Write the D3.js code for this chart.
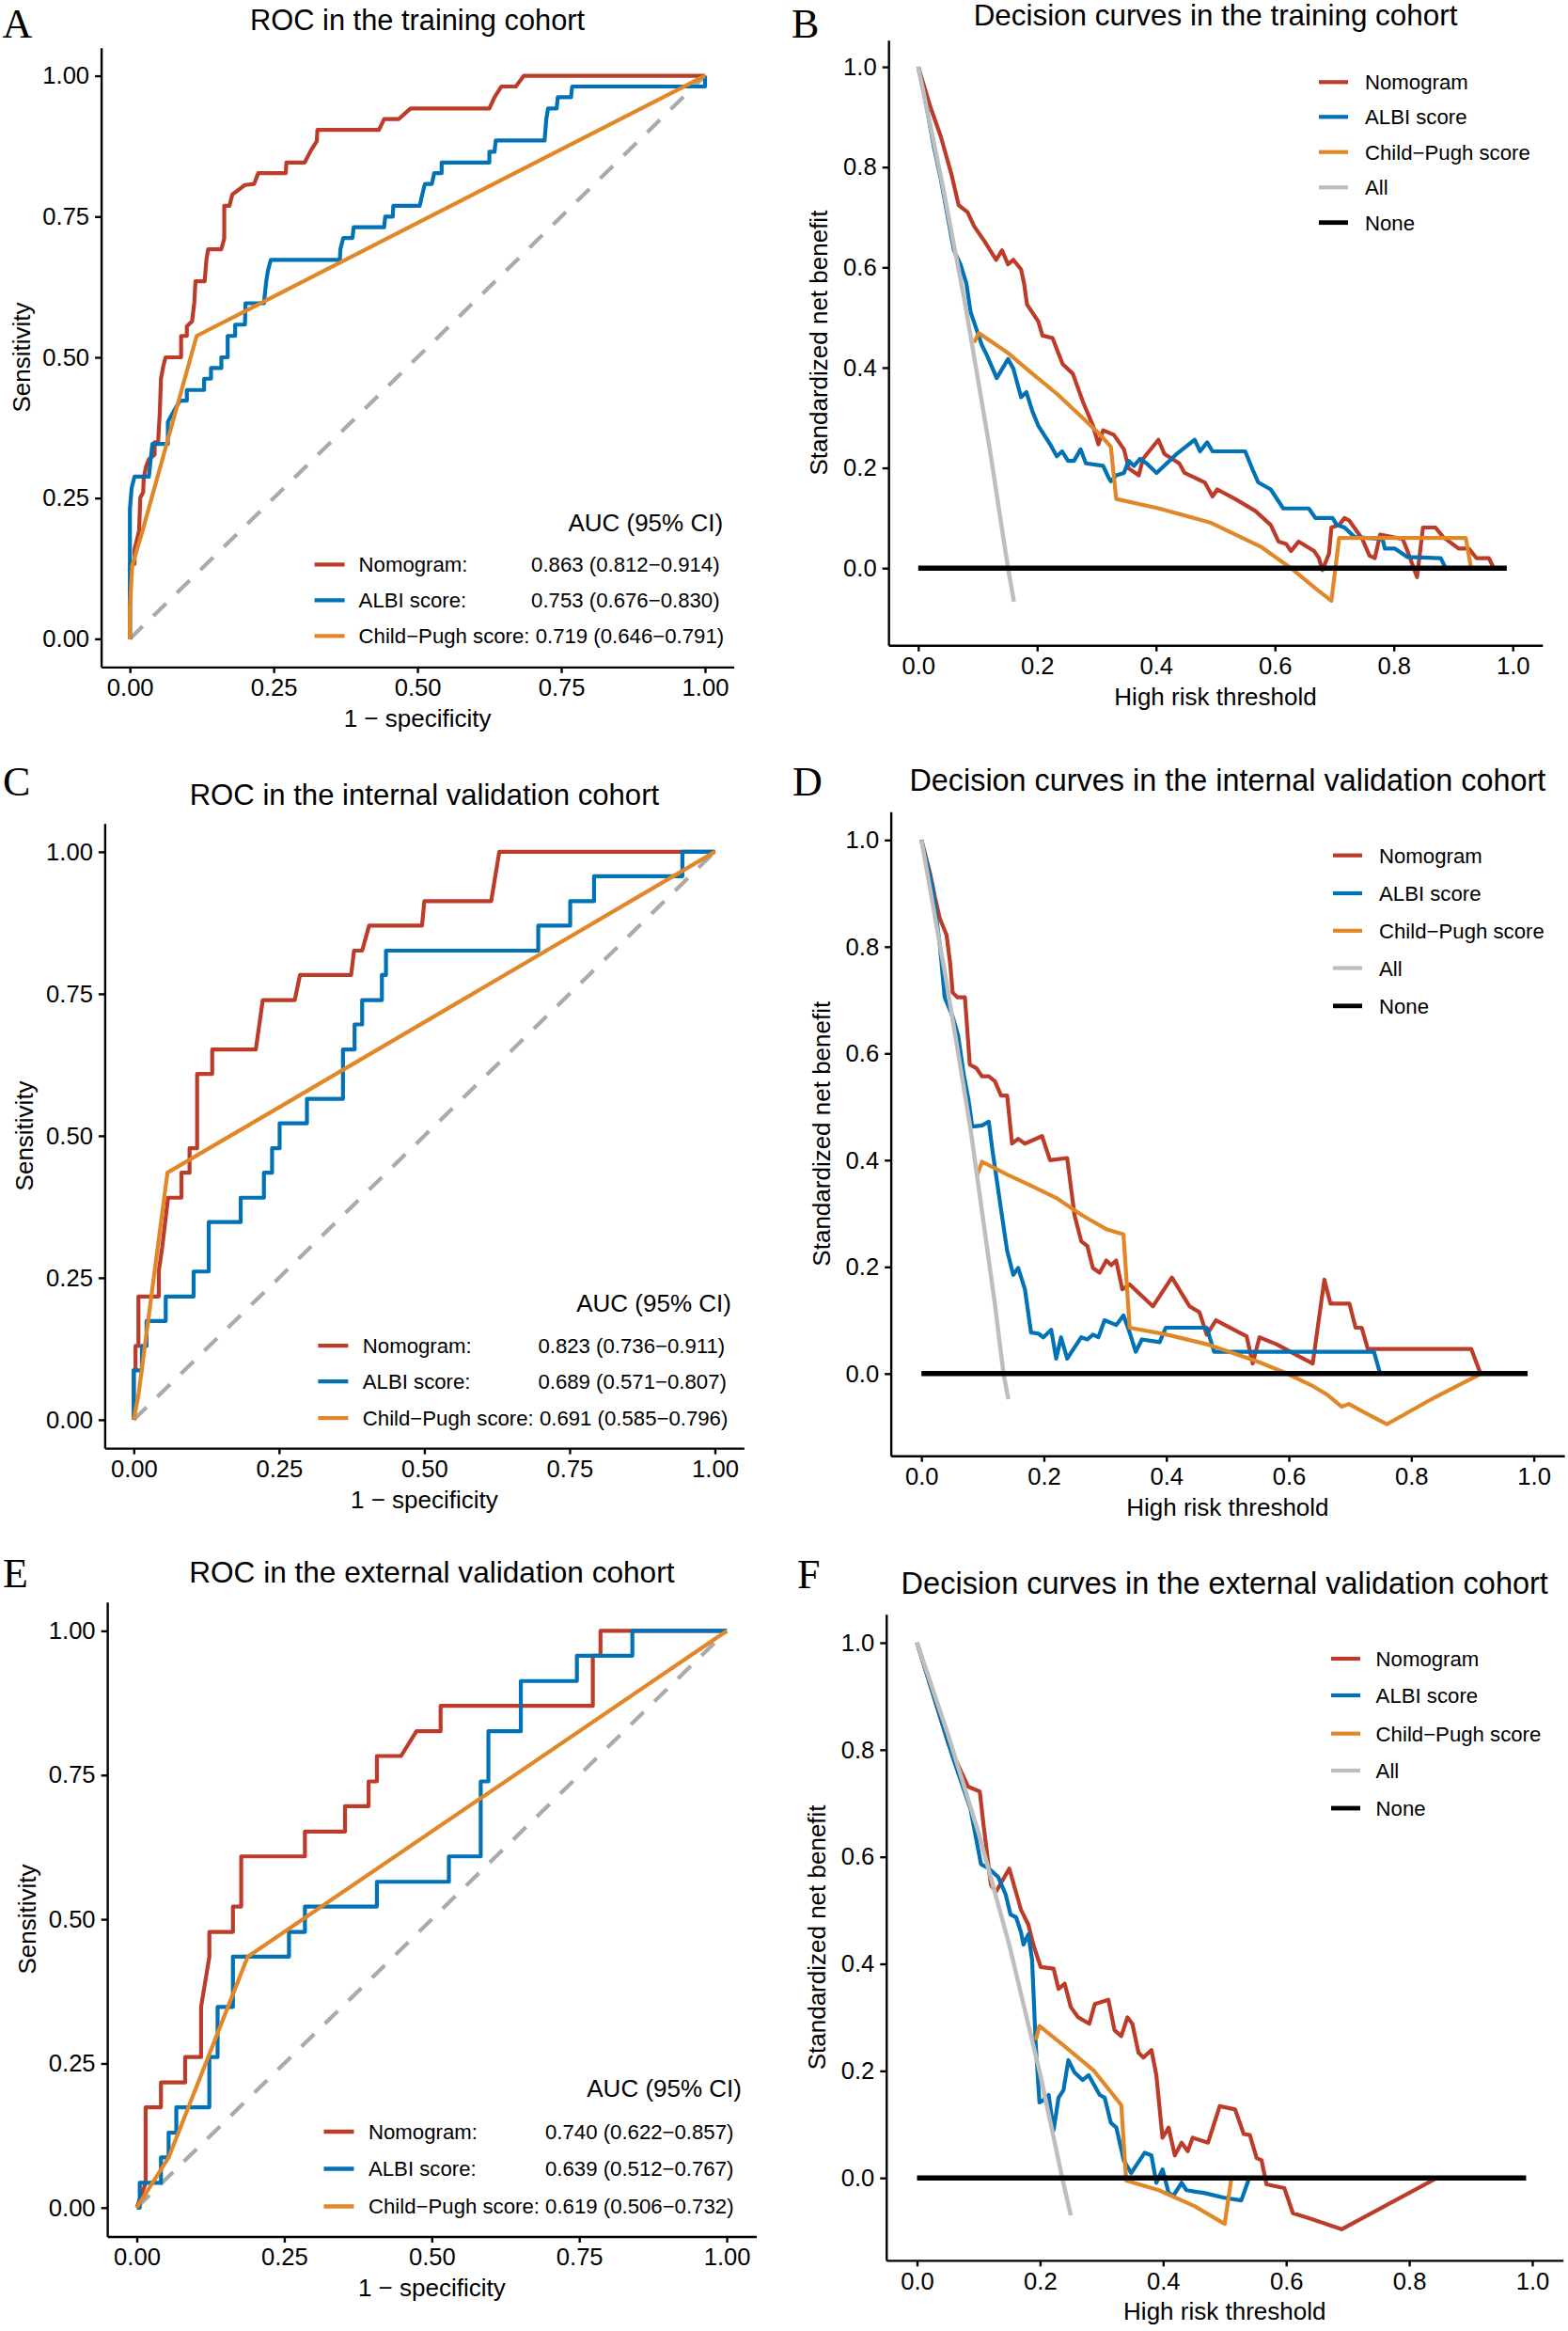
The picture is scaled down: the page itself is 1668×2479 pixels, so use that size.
<!DOCTYPE html>
<html>
<head>
<meta charset="utf-8">
<script src="https://cdn.jsdelivr.net/npm/d3@7/dist/d3.min.js"></script>
<style>
html,body{margin:0;padding:0;background:#fff;}
svg{display:block;}
</style>
</head>
<body>
<svg id="chart" width="1668" height="2479" xmlns="http://www.w3.org/2000/svg"></svg>
<script>
// ================= DATA =================
const rocTicks = [0, 0.25, 0.5, 0.75, 1];
const dcaTicks = [0, 0.2, 0.4, 0.6, 0.8, 1.0];
const rocSeries = ["Nomogram:", "ALBI score:", "Child\u2212Pugh score:"];
const dcaSeries = ["Nomogram", "ALBI score", "Child\u2212Pugh score", "All", "None"];
const aucA = ["0.863 (0.812\u22120.914)", "0.753 (0.676\u22120.830)", "0.719 (0.646\u22120.791)"];
const aucC = ["0.823 (0.736\u22120.911)", "0.689 (0.571\u22120.807)", "0.691 (0.585\u22120.796)"];
const aucE = ["0.740 (0.622\u22120.857)", "0.639 (0.512\u22120.767)", "0.619 (0.506\u22120.732)"];
const diagonal = [[0,0],[1,1]];

// ROC – training cohort
const rocA_nomogram = [[0,0],[0,0.133],[0.008,0.133],[0.008,0.159],[0.016,0.192],[0.018,0.251],[0.023,0.26],[0.024,0.285],[0.028,0.306],[0.033,0.319],[0.043,0.327],[0.043,0.349],[0.049,0.349],[0.052,0.403],[0.054,0.462],[0.058,0.484],[0.062,0.5],[0.089,0.5],[0.089,0.538],[0.099,0.538],[0.099,0.555],[0.108,0.564],[0.112,0.597],[0.114,0.635],[0.13,0.635],[0.133,0.673],[0.136,0.692],[0.159,0.692],[0.164,0.711],[0.164,0.769],[0.173,0.769],[0.178,0.789],[0.2,0.806],[0.216,0.808],[0.223,0.827],[0.271,0.827],[0.272,0.846],[0.304,0.846],[0.315,0.868],[0.325,0.884],[0.326,0.904],[0.433,0.904],[0.442,0.923],[0.467,0.923],[0.488,0.942],[0.625,0.942],[0.634,0.962],[0.646,0.981],[0.671,0.981],[0.685,1],[1,1]];
const rocA_albi = [[0,0],[0,0.23],[0.003,0.268],[0.008,0.288],[0.033,0.288],[0.037,0.327],[0.039,0.346],[0.066,0.346],[0.066,0.385],[0.076,0.404],[0.087,0.423],[0.099,0.423],[0.099,0.442],[0.129,0.442],[0.129,0.462],[0.141,0.462],[0.141,0.481],[0.159,0.481],[0.159,0.5],[0.17,0.5],[0.17,0.538],[0.183,0.538],[0.183,0.558],[0.2,0.558],[0.201,0.596],[0.233,0.596],[0.237,0.635],[0.24,0.654],[0.245,0.673],[0.365,0.673],[0.366,0.692],[0.371,0.712],[0.387,0.712],[0.389,0.731],[0.442,0.731],[0.444,0.75],[0.457,0.75],[0.458,0.769],[0.504,0.769],[0.508,0.788],[0.513,0.808],[0.525,0.808],[0.529,0.827],[0.542,0.827],[0.542,0.846],[0.625,0.846],[0.625,0.865],[0.634,0.865],[0.636,0.885],[0.721,0.885],[0.724,0.923],[0.727,0.942],[0.742,0.942],[0.744,0.962],[0.767,0.962],[0.769,0.981],[1,0.981],[1,1]];
const rocA_childpugh = [[0,0],[0,0.054],[0.004,0.13],[0.022,0.192],[0.116,0.538],[1,1]];

// ROC – internal validation cohort
const rocC_nomogram = [[0,0],[0,0.087],[0.003,0.087],[0.003,0.13],[0.008,0.13],[0.008,0.217],[0.043,0.217],[0.043,0.261],[0.049,0.304],[0.059,0.391],[0.082,0.391],[0.082,0.435],[0.096,0.435],[0.096,0.478],[0.109,0.478],[0.109,0.609],[0.135,0.609],[0.135,0.652],[0.21,0.652],[0.222,0.739],[0.277,0.739],[0.286,0.783],[0.374,0.783],[0.379,0.826],[0.393,0.826],[0.405,0.87],[0.496,0.87],[0.5,0.913],[0.615,0.913],[0.629,1],[1,1]];
const rocC_albi = [[0,0],[0,0.087],[0.014,0.087],[0.014,0.13],[0.022,0.13],[0.022,0.174],[0.055,0.174],[0.055,0.217],[0.103,0.217],[0.103,0.261],[0.129,0.261],[0.129,0.348],[0.184,0.348],[0.184,0.391],[0.224,0.391],[0.224,0.435],[0.238,0.435],[0.238,0.478],[0.251,0.478],[0.251,0.522],[0.298,0.522],[0.298,0.565],[0.36,0.565],[0.36,0.652],[0.38,0.652],[0.38,0.696],[0.393,0.696],[0.393,0.739],[0.427,0.739],[0.427,0.783],[0.434,0.783],[0.434,0.826],[0.696,0.826],[0.696,0.87],[0.751,0.87],[0.751,0.913],[0.792,0.913],[0.792,0.957],[0.944,0.957],[0.944,1],[1,1]];
const rocC_childpugh = [[0,0],[0.008,0.043],[0.058,0.435],[1,1]];

// ROC – external validation cohort
const rocE_nomogram = [[0,0],[0.015,0.043],[0.015,0.174],[0.041,0.174],[0.041,0.217],[0.082,0.217],[0.082,0.261],[0.109,0.261],[0.109,0.348],[0.123,0.435],[0.123,0.478],[0.163,0.478],[0.163,0.522],[0.177,0.522],[0.177,0.609],[0.285,0.609],[0.285,0.652],[0.353,0.652],[0.353,0.696],[0.393,0.696],[0.393,0.739],[0.407,0.739],[0.407,0.783],[0.448,0.783],[0.474,0.826],[0.515,0.826],[0.515,0.87],[0.773,0.87],[0.773,0.957],[0.786,0.957],[0.786,1],[1,1]];
const rocE_albi = [[0,0],[0.005,0],[0.005,0.043],[0.041,0.043],[0.041,0.087],[0.054,0.087],[0.054,0.13],[0.067,0.13],[0.067,0.174],[0.123,0.174],[0.123,0.261],[0.137,0.261],[0.137,0.348],[0.163,0.348],[0.163,0.435],[0.258,0.435],[0.258,0.478],[0.285,0.478],[0.285,0.522],[0.407,0.522],[0.407,0.565],[0.529,0.565],[0.529,0.609],[0.583,0.609],[0.583,0.739],[0.596,0.739],[0.596,0.826],[0.651,0.826],[0.651,0.913],[0.746,0.913],[0.746,0.957],[0.84,0.957],[0.84,1],[1,1]];
const rocE_childpugh = [[0,0],[0.054,0.087],[0.188,0.435],[1,1]];

// Decision curves – training cohort
const dcaB_nomogram = [[0,1],[0.021,0.918],[0.038,0.861],[0.056,0.785],[0.068,0.724],[0.083,0.71],[0.094,0.682],[0.111,0.653],[0.131,0.615],[0.141,0.634],[0.151,0.606],[0.16,0.615],[0.173,0.596],[0.178,0.568],[0.183,0.526],[0.202,0.492],[0.209,0.464],[0.226,0.459],[0.235,0.431],[0.243,0.407],[0.26,0.388],[0.277,0.332],[0.294,0.284],[0.303,0.247],[0.311,0.275],[0.329,0.266],[0.346,0.237],[0.354,0.199],[0.371,0.185],[0.378,0.218],[0.404,0.256],[0.414,0.228],[0.439,0.209],[0.448,0.19],[0.482,0.171],[0.495,0.143],[0.503,0.157],[0.533,0.138],[0.567,0.114],[0.593,0.086],[0.606,0.053],[0.619,0.048],[0.627,0.034],[0.64,0.053],[0.666,0.034],[0.674,0.02],[0.68,-0.004],[0.691,0.029],[0.695,0.081],[0.708,0.086],[0.717,0.1],[0.725,0.095],[0.747,0.058],[0.759,0.025],[0.768,0.02],[0.777,0.067],[0.815,0.058],[0.823,0.034],[0.839,-0.018],[0.849,0.081],[0.87,0.081],[0.883,0.062],[0.909,0.039],[0.926,0.039],[0.939,0.02],[0.96,0.02],[0.968,0]];
const dcaB_albi = [[0,1],[0.013,0.927],[0.026,0.842],[0.038,0.776],[0.06,0.634],[0.071,0.606],[0.081,0.568],[0.088,0.511],[0.107,0.445],[0.115,0.426],[0.132,0.379],[0.151,0.417],[0.16,0.398],[0.173,0.341],[0.182,0.351],[0.192,0.313],[0.202,0.284],[0.222,0.247],[0.233,0.223],[0.242,0.233],[0.252,0.214],[0.262,0.214],[0.273,0.237],[0.282,0.209],[0.311,0.204],[0.32,0.181],[0.324,0.173],[0.333,0.185],[0.346,0.19],[0.354,0.214],[0.363,0.204],[0.373,0.218],[0.384,0.209],[0.401,0.19],[0.435,0.228],[0.465,0.256],[0.474,0.233],[0.486,0.251],[0.495,0.233],[0.55,0.233],[0.563,0.195],[0.572,0.171],[0.593,0.157],[0.614,0.119],[0.657,0.119],[0.668,0.1],[0.697,0.1],[0.704,0.086],[0.717,0.081],[0.734,0.062],[0.781,0.058],[0.785,0.039],[0.802,0.039],[0.823,0.022],[0.879,0.02],[0.887,0]];
const dcaB_childpugh = [[0.094,0.45],[0.102,0.469],[0.149,0.431],[0.192,0.388],[0.235,0.346],[0.277,0.299],[0.303,0.27],[0.324,0.242],[0.333,0.138],[0.405,0.119],[0.491,0.091],[0.576,0.043],[0.627,0],[0.67,-0.042],[0.695,-0.065],[0.708,0.06],[0.921,0.06],[0.93,0]];
const dcaB_all = [[0,1],[0.04,0.77],[0.08,0.52],[0.12,0.24],[0.151,0],[0.161,-0.067]];
const dcaB_none = [[0,0],[0.99,0]];

// Decision curves – internal validation cohort
const dcaD_nomogram = [[0,1],[0.014,0.938],[0.022,0.893],[0.03,0.853],[0.041,0.822],[0.047,0.768],[0.051,0.714],[0.059,0.705],[0.071,0.705],[0.079,0.579],[0.09,0.572],[0.099,0.557],[0.11,0.557],[0.12,0.548],[0.13,0.521],[0.14,0.521],[0.148,0.431],[0.158,0.44],[0.169,0.431],[0.197,0.445],[0.21,0.4],[0.238,0.404],[0.25,0.297],[0.261,0.248],[0.271,0.239],[0.28,0.198],[0.291,0.189],[0.302,0.212],[0.31,0.203],[0.318,0.212],[0.328,0.158],[0.34,0.167],[0.378,0.126],[0.409,0.18],[0.438,0.126],[0.454,0.115],[0.466,0.073],[0.481,0.1],[0.511,0.082],[0.531,0.07],[0.541,0.019],[0.552,0.068],[0.58,0.055],[0.617,0.032],[0.639,0.019],[0.658,0.176],[0.668,0.131],[0.699,0.131],[0.709,0.086],[0.719,0.086],[0.729,0.046],[0.898,0.046],[0.913,0]];
const dcaD_albi = [[0,1],[0.018,0.911],[0.03,0.804],[0.038,0.705],[0.051,0.669],[0.06,0.633],[0.069,0.561],[0.077,0.512],[0.083,0.463],[0.099,0.465],[0.11,0.472],[0.116,0.418],[0.124,0.355],[0.132,0.292],[0.14,0.23],[0.15,0.185],[0.158,0.198],[0.169,0.158],[0.179,0.077],[0.191,0.075],[0.199,0.068],[0.212,0.082],[0.22,0.028],[0.228,0.068],[0.238,0.028],[0.261,0.068],[0.271,0.064],[0.28,0.073],[0.289,0.068],[0.299,0.1],[0.318,0.091],[0.33,0.109],[0.34,0.077],[0.35,0.041],[0.36,0.064],[0.389,0.059],[0.399,0.086],[0.466,0.086],[0.478,0.041],[0.739,0.041],[0.749,0]];
const dcaD_childpugh = [[0.09,0.369],[0.099,0.397],[0.14,0.373],[0.181,0.351],[0.222,0.328],[0.262,0.297],[0.303,0.27],[0.33,0.261],[0.34,0.086],[0.401,0.073],[0.466,0.055],[0.548,0.023],[0.597,0],[0.637,-0.022],[0.662,-0.039],[0.686,-0.062],[0.698,-0.057],[0.727,-0.075],[0.76,-0.095],[0.833,-0.048],[0.914,0]];
const dcaD_all = [[0,1],[0.04,0.74],[0.08,0.46],[0.12,0.13],[0.134,0],[0.142,-0.048]];
const dcaD_none = [[0,0],[0.99,0]];

// Decision curves – external validation cohort
const dcaF_nomogram = [[0,1],[0.026,0.904],[0.051,0.811],[0.083,0.731],[0.102,0.722],[0.108,0.661],[0.12,0.548],[0.128,0.534],[0.15,0.578],[0.169,0.501],[0.181,0.473],[0.189,0.436],[0.201,0.394],[0.222,0.391],[0.23,0.353],[0.24,0.363],[0.25,0.319],[0.262,0.3],[0.28,0.288],[0.289,0.325],[0.311,0.333],[0.321,0.276],[0.332,0.265],[0.342,0.3],[0.35,0.288],[0.36,0.234],[0.368,0.225],[0.381,0.239],[0.389,0.192],[0.399,0.075],[0.409,0.094],[0.419,0.042],[0.43,0.066],[0.44,0.05],[0.448,0.075],[0.473,0.066],[0.492,0.134],[0.517,0.128],[0.531,0.082],[0.541,0.08],[0.552,0.037],[0.56,0.033],[0.568,-0.012],[0.597,-0.019],[0.611,-0.066],[0.637,-0.075],[0.69,-0.096],[0.845,0]];
const dcaF_albi = [[0,1],[0.026,0.904],[0.059,0.783],[0.087,0.689],[0.104,0.586],[0.117,0.578],[0.132,0.562],[0.144,0.53],[0.152,0.492],[0.161,0.487],[0.169,0.459],[0.173,0.436],[0.181,0.455],[0.187,0.408],[0.193,0.248],[0.199,0.141],[0.205,0.145],[0.214,0.155],[0.222,0.089],[0.23,0.15],[0.238,0.164],[0.246,0.22],[0.256,0.197],[0.269,0.183],[0.279,0.192],[0.297,0.155],[0.305,0.15],[0.315,0.103],[0.324,0.094],[0.336,0.033],[0.348,0.009],[0.37,0.047],[0.381,0.042],[0.389,-0.009],[0.399,0.016],[0.409,-0.028],[0.417,-0.033],[0.43,-0.009],[0.438,-0.023],[0.466,-0.028],[0.499,-0.037],[0.527,-0.042],[0.54,0]];
const dcaF_childpugh = [[0.193,0.258],[0.199,0.284],[0.238,0.248],[0.287,0.201],[0.332,0.136],[0.34,-0.005],[0.393,-0.023],[0.45,-0.052],[0.5,-0.086],[0.511,0]];
const dcaF_all = [[0,1],[0.05,0.83],[0.1,0.645],[0.15,0.435],[0.2,0.195],[0.236,0],[0.25,-0.07]];
const dcaF_none = [[0,0],[0.99,0]];

// ================= STYLE / LAYOUT =================
const FONT = '"Liberation Sans", Arial, Helvetica, sans-serif';
const SERIF = '"Liberation Serif", "Times New Roman", Times, serif';
const COL = {nom:"#BC3C29", albi:"#0072B5", cp:"#E18727", all:"#BEBEBE", none:"#000000", diag:"#AAAAAA"};
const LEGEND_SIZE = 22.2;

const rocPanels = [
  {letter:"A", title:"ROC in the training cohort", nom:rocA_nomogram, albi:rocA_albi, cp:rocA_childpugh, auc:aucA,
   x0:138.2, x1:750, y0:679.4, y1:80.6, titleY:31.5, titleSize:30.8, letterX:2.5, letterY:39.5,
   aucDx:-11.5, aucDy:-144, rows:[-109,-71,-33], keyX:[-446,-414], labelDx:-399, valueDx:-215.5},
  {letter:"C", title:"ROC in the internal validation cohort", nom:rocC_nomogram, albi:rocC_albi, cp:rocC_childpugh, auc:aucC,
   x0:142.3, x1:760.5, y0:1509.9, y1:905.9, titleY:855.9, titleSize:31.1, letterX:3, letterY:845.7,
   aucDx:-13.5, aucDy:-145.6, rows:[-109,-71,-32], keyX:[-453,-421], labelDx:-405.6, valueDx:-219},
  {letter:"E", title:"ROC in the external validation cohort", nom:rocE_nomogram, albi:rocE_albi, cp:rocE_childpugh, auc:aucE,
   x0:145.5, x1:773.1, y0:2347.8, y1:1734.4, titleY:1682.5, titleSize:31.6, letterX:3, letterY:1688,
   aucDx:-15.5, aucDy:-148, rows:[-111.5,-72,-32], keyX:[-460,-428], labelDx:-412.5, valueDx:-224.5}
];

const dcaPanels = [
  {letter:"B", title:"Decision curves in the training cohort", nom:dcaB_nomogram, albi:dcaB_albi, cp:dcaB_childpugh, all:dcaB_all, none:dcaB_none,
   x0:976.8, x1:1609.2, y0:604.2, y1:71.1, titleY:27, titleSize:31.4, letterX:842, letterY:39.5,
   rows:[87.3,124.3,161.7,199.3,236.7], keyX:[1403,1434], labelX:1452},
  {letter:"D", title:"Decision curves in the internal validation cohort", nom:dcaD_nomogram, albi:dcaD_albi, cp:dcaD_childpugh, all:dcaD_all, none:dcaD_none,
   x0:980.2, x1:1631.6, y0:1460.8, y1:893.3, titleY:840.9, titleSize:32.4, letterX:843, letterY:846,
   rows:[909.7,950,989.8,1029.5,1069.8], keyX:[1418,1449], labelX:1467},
  {letter:"F", title:"Decision curves in the external validation cohort", nom:dcaF_nomogram, albi:dcaF_albi, cp:dcaF_childpugh, all:dcaF_all, none:dcaF_none,
   x0:975.5, x1:1630, y0:2316.2, y1:1747, titleY:1694.7, titleSize:32.5, letterX:848, letterY:1689.4,
   rows:[1764,1803,1843.7,1883,1923], keyX:[1416,1447], labelX:1463.6}
];

const svg = d3.select("#chart");
svg.append("rect").attr("width",1668).attr("height",2479).attr("fill","#fff");

function makeScales(p, yDom) {
  const ux = p.x1 - p.x0, uy = p.y0 - p.y1;
  const x = d3.scaleLinear().domain([-0.05, 1.05]).range([p.x0 - 0.05*ux, p.x0 + 1.05*ux]);
  const y = d3.scaleLinear().domain(yDom).range([p.y0 - yDom[0]*uy, p.y0 - yDom[1]*uy]);
  return {x, y};
}

function drawAxes(g, x, y, ticks, fmt) {
  const bottom = y.range()[0], left = x.range()[0];
  const xa = g.append("g").attr("transform", `translate(0,${bottom})`)
    .call(d3.axisBottom(x).tickValues(ticks).tickFormat(fmt).tickSizeInner(6.5).tickSizeOuter(0).tickPadding(6));
  const ya = g.append("g").attr("transform", `translate(${left},0)`)
    .call(d3.axisLeft(y).tickValues(ticks).tickFormat(fmt).tickSizeInner(6.5).tickSizeOuter(0).tickPadding(6));
  [xa, ya].forEach(a => {
    a.attr("font-family", FONT).attr("font-size", 26);
    a.selectAll(".domain").attr("stroke", "#000").attr("stroke-width", 2.4);
    a.selectAll(".tick line").attr("stroke", "#000").attr("stroke-width", 2.4);
    a.selectAll(".tick text").attr("fill", "#000").attr("font-size", 25.6).attr("font-family", FONT);
  });
}

function drawLine(g, data, x, y, color, width, dash) {
  const line = d3.line().x(d => x(d[0])).y(d => y(d[1]));
  const p = g.append("path").datum(data).attr("d", line)
    .attr("fill", "none").attr("stroke", color).attr("stroke-width", width)
    .attr("stroke-linejoin", "round").attr("stroke-linecap", "butt");
  if (dash) p.attr("stroke-dasharray", dash);
  return p;
}

function titles(g, p, x, y, xTitle, yTitle, yTitleOffset) {
  const [l, r] = x.range(), [b, t] = y.range();
  g.append("text").attr("x", (l + r) / 2).attr("y", p.titleY).attr("text-anchor", "middle")
    .attr("font-family", FONT).attr("font-size", p.titleSize).attr("fill", "#000").text(p.title);
  g.append("text").attr("x", p.letterX).attr("y", p.letterY)
    .attr("font-family", SERIF).attr("font-size", 44).attr("fill", "#000").text(p.letter);
  g.append("text").attr("x", (l + r) / 2).attr("y", b + 63.5).attr("text-anchor", "middle")
    .attr("font-family", FONT).attr("font-size", 26).attr("fill", "#000").text(xTitle);
  const cy = (b + t) / 2, bx = l + yTitleOffset;
  g.append("text").attr("transform", `translate(${bx},${cy}) rotate(-90)`).attr("text-anchor", "middle")
    .attr("font-family", FONT).attr("font-size", 26).attr("fill", "#000").text(yTitle);
}

// ---------- ROC panels ----------
rocPanels.forEach(p => {
  const g = svg.append("g");
  const {x, y} = makeScales(p, [-0.05, 1.05]);
  drawLine(g, diagonal, x, y, COL.diag, 4.2, "19,16");
  drawLine(g, p.nom, x, y, COL.nom, 4.2);
  drawLine(g, p.albi, x, y, COL.albi, 4.2);
  drawLine(g, p.cp, x, y, COL.cp, 4.2);
  drawAxes(g, x, y, rocTicks, d3.format(".2f"));
  titles(g, p, x, y, "1 \u2212 specificity", "Sensitivity", -76);

  const right = x.range()[1], bottom = y.range()[0];
  g.append("text").attr("x", right + p.aucDx).attr("y", bottom + p.aucDy).attr("text-anchor", "end")
    .attr("font-family", FONT).attr("font-size", 26).attr("fill", "#000").text("AUC (95% CI)");
  const cols = [COL.nom, COL.albi, COL.cp];
  rocSeries.forEach((name, i) => {
    const ry = bottom + p.rows[i];
    g.append("line").attr("x1", right + p.keyX[0]).attr("x2", right + p.keyX[1]).attr("y1", ry).attr("y2", ry)
      .attr("stroke", cols[i]).attr("stroke-width", 4.4);
    if (i < 2) {
      g.append("text").attr("x", right + p.labelDx).attr("y", ry + 8).attr("font-family", FONT)
        .attr("font-size", LEGEND_SIZE).attr("fill", "#000").text(name);
      g.append("text").attr("x", right + p.valueDx).attr("y", ry + 8).attr("font-family", FONT)
        .attr("font-size", LEGEND_SIZE).attr("fill", "#000").text(p.auc[i]);
    } else {
      g.append("text").attr("x", right + p.labelDx).attr("y", ry + 8).attr("font-family", FONT)
        .attr("font-size", LEGEND_SIZE).attr("fill", "#000").text(name + " " + p.auc[i]);
    }
  });
});

// ---------- Decision curve panels ----------
dcaPanels.forEach(p => {
  const g = svg.append("g");
  const {x, y} = makeScales(p, [-0.154, 1.053]);
  drawLine(g, p.nom, x, y, COL.nom, 4.2);
  drawLine(g, p.albi, x, y, COL.albi, 4.2);
  drawLine(g, p.cp, x, y, COL.cp, 4.2);
  drawLine(g, p.all, x, y, COL.all, 4.5);
  drawLine(g, p.none, x, y, COL.none, 5.6);
  drawAxes(g, x, y, dcaTicks, d3.format(".1f"));
  titles(g, p, x, y, "High risk threshold", "Standardized net benefit", -65);

  const cols = [COL.nom, COL.albi, COL.cp, COL.all, COL.none];
  dcaSeries.forEach((name, i) => {
    const ry = p.rows[i];
    g.append("line").attr("x1", p.keyX[0]).attr("x2", p.keyX[1]).attr("y1", ry).attr("y2", ry)
      .attr("stroke", cols[i]).attr("stroke-width", i === 4 ? 4.8 : 4.2);
    g.append("text").attr("x", p.labelX).attr("y", ry + 8).attr("font-family", FONT)
      .attr("font-size", LEGEND_SIZE).attr("fill", "#000").text(name);
  });
});
</script>
</body>
</html>
